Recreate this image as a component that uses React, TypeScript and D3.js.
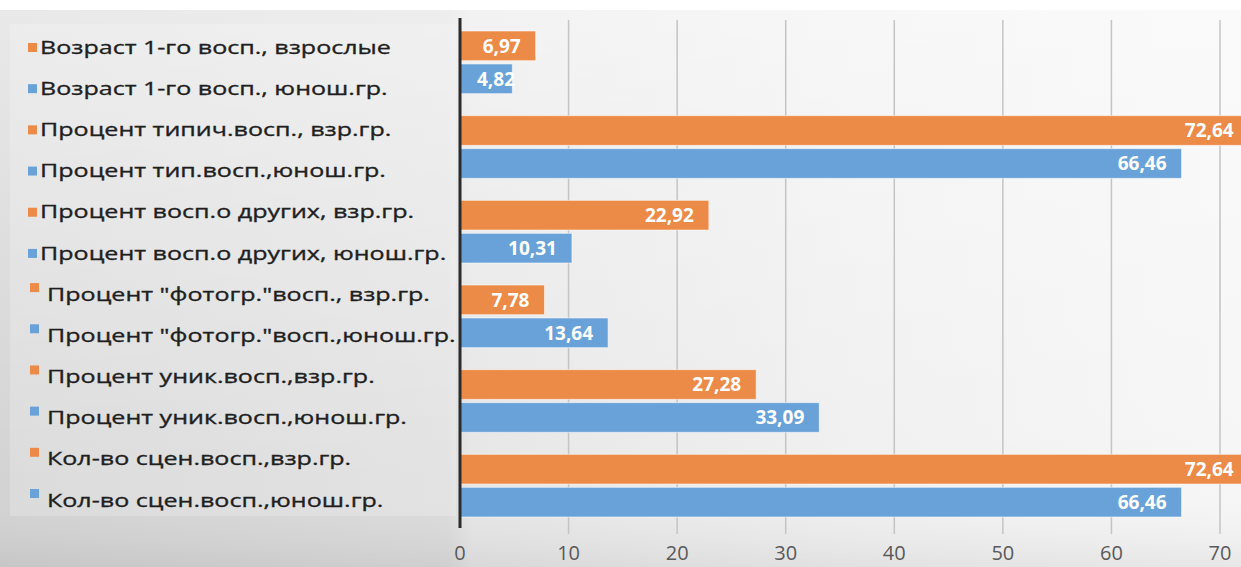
import React from 'react'
import * as d3 from 'd3'

// one group per indicator: adults (orange) on top, youth group (blue) below
const groups = ['age', 'typical', 'others', 'photo', 'unique', 'scenes']
const adultValues = [6.97, 72.64, 22.92, 7.78, 27.28, 72.64]
const youthValues = [4.82, 66.46, 10.31, 13.64, 33.09, 66.46]
const series = ['adult', 'youth']

const legendLabels = [
  'Возраст 1-го восп., взрослые',
  'Возраст 1-го восп., юнош.гр.',
  'Процент типич.восп., взр.гр.',
  'Процент тип.восп.,юнош.гр.',
  'Процент восп.о других, взр.гр.',
  'Процент восп.о других, юнош.гр.',
  'Процент "фотогр."восп., взр.гр.',
  'Процент "фотогр."восп.,юнош.гр.',
  'Процент уник.восп.,взр.гр.',
  'Процент уник.восп.,юнош.гр.',
  'Кол-во сцен.восп.,взр.гр.',
  'Кол-во сцен.восп.,юнош.гр.'
]

const xTicks = [0, 10, 20, 30, 40, 50, 60, 70]

const ORANGE = '#ec8a48'
const BLUE = '#69a2d8'

const W = 1241
const H = 567

const fmt = (v: number) => v.toFixed(2).replace('.', ',')

const App: React.FC = () => {
  const x = d3.scaleLinear().domain([0, 70]).range([460, 1220])

  const y = d3.scaleBand<string>()
    .domain(groups)
    .range([20, 528])
    .paddingInner(0.26)
    .paddingOuter(0.13)

  const ySub = d3.scaleBand<string>()
    .domain(series)
    .range([0, y.bandwidth()])
    .paddingInner(0.1)

  const legendY = d3.scalePoint<number>()
    .domain(d3.range(legendLabels.length))
    .range([47, 500])

  const bars = groups.flatMap((g, i) => [
    { key: g + '-a', group: g, s: 'adult', value: adultValues[i], color: ORANGE },
    { key: g + '-y', group: g, s: 'youth', value: youthValues[i], color: BLUE }
  ])

  const font = '"Open Sans", "Noto Sans", sans-serif'

  return (
    <svg
      width={W}
      height={H}
      style={{ position: 'absolute', left: 0, top: 0, display: 'block' }}
      fontFamily={font}
    >
      <defs>
        <linearGradient id="bgH" x1="0" x2="1" y1="0" y2="0">
          <stop offset="0%" stopColor="#d3d3d3" />
          <stop offset="36%" stopColor="#dcdcdc" />
          <stop offset="38%" stopColor="#e6e6e6" />
          <stop offset="70%" stopColor="#f0f0f0" />
          <stop offset="100%" stopColor="#f6f6f6" />
        </linearGradient>
        <linearGradient id="bgV" x1="0" x2="0" y1="0" y2="1">
          <stop offset="0%" stopColor="#ffffff" stopOpacity={0.5} />
          <stop offset="85%" stopColor="#ffffff" stopOpacity={0} />
          <stop offset="100%" stopColor="#000000" stopOpacity={0.06} />
        </linearGradient>
      </defs>

      <rect x={0} y={0} width={W} height={H} fill="#ffffff" />
      <rect x={0} y={10} width={W} height={H - 10} fill="url(#bgH)" />
      <rect x={0} y={10} width={W} height={H - 10} fill="url(#bgV)" />
      {/* legend panel */}
      <rect x={10} y={24} width={446} height={492} fill="#ffffff" opacity={0.2} />

      {/* gridlines */}
      {xTicks.slice(1).map(t => (
        <line key={t} x1={x(t)} x2={x(t)} y1={20} y2={534} stroke="#c4c4c4" strokeWidth={1.5} />
      ))}

      {/* bars */}
      {bars.map(b => {
        const by = (y(b.group) ?? 0) + (ySub(b.s) ?? 0)
        const bh = ySub.bandwidth()
        const x0 = x(0)
        const x1 = x(b.value)
        const tx = Math.max(x1 - 15, x0 + 55)
        return (
          <g key={b.key}>
            <rect x={x0} y={by} width={x1 - x0} height={bh} fill={b.color}
              stroke="#ffffff" strokeOpacity={0.55} strokeWidth={1} />
            <text x={tx} y={by + bh / 2} dy="0.36em" textAnchor="end"
              fill="#ffffff" fontSize={19} fontWeight={700}>
              {fmt(b.value)}
            </text>
          </g>
        )
      })}

      {/* value axis line */}
      <line x1={x(0)} x2={x(0)} y1={18} y2={528} stroke="#2b2b2b" strokeWidth={3} />

      {/* tick labels */}
      {xTicks.map(t => (
        <text key={t} x={x(t)} y={553} dy="0.35em" textAnchor="middle" fill="#595959" fontSize={20}>
          {t}
        </text>
      ))}

      {/* legend-like labels (text is wide in the source, so stretch horizontally) */}
      {legendLabels.map((lbl, i) => {
        const cy = legendY(i) ?? 0
        const color = i % 2 === 0 ? ORANGE : BLUE
        const raised = i >= 6
        const sqX = raised ? 30 : 28
        const sqY = raised ? cy - 11 : cy - 4
        const tx = raised ? 47 : 40
        return (
          <g key={lbl}>
            <rect x={sqX} y={sqY} width={9} height={9} fill={color} />
            <g transform={`translate(${tx},${cy}) scale(1.32,1)`}>
              <text x={0} y={0} dy="0.35em" fill="#1f1f1f" fontSize={19}
                stroke="#1f1f1f" strokeWidth={0.35}>
                {lbl}
              </text>
            </g>
          </g>
        )
      })}
    </svg>
  )
}

export default App
